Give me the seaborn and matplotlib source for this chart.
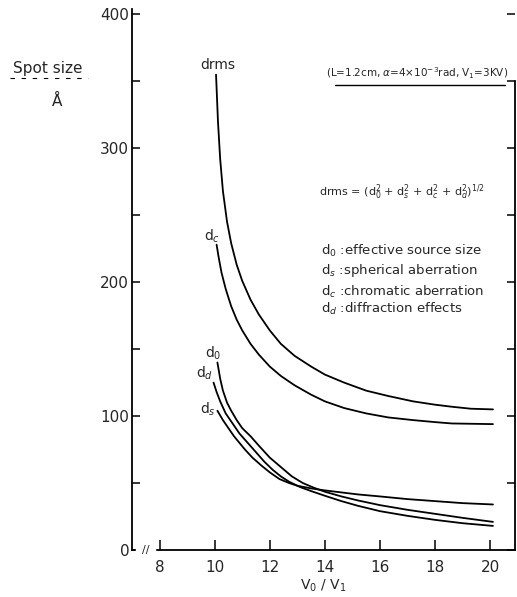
import matplotlib
matplotlib.use("Agg")
import matplotlib.pyplot as plt
import seaborn as sns
import pandas as pd
from matplotlib.lines import Line2D

# curves (x = V0/V1, y = spot size in Angstrom)
drms_x = [10.05, 10.12, 10.2, 10.3, 10.45, 10.6, 10.8, 11.0, 11.3, 11.6, 12.0, 12.4, 12.9, 13.5,
          14.0, 14.7, 15.5, 16.3, 17.2, 18.0, 18.6, 19.3, 20.1]
drms_y = [355, 320, 292, 268, 245, 229, 213, 201, 187, 176, 164, 154, 145, 137,
          131, 125, 119, 115, 111, 108.5, 107, 105.5, 105]

dc_x = [10.07, 10.15, 10.25, 10.4, 10.6, 10.8, 11.0, 11.3, 11.6, 12.0, 12.4, 12.9, 13.5,
        14.0, 14.7, 15.5, 16.3, 17.2, 18.0, 18.6, 20.1]
dc_y = [228, 218, 207, 195, 182, 172, 164, 154, 146, 137, 130, 123, 116,
        111, 106, 102, 99, 97, 95.5, 94.5, 94]

d0_x = [10.1, 10.2, 10.3, 10.45, 10.6, 10.8, 11.0, 11.3, 11.6, 12.0, 12.4, 12.8, 13.2, 13.6,
        14.0, 14.6, 15.2, 16.0, 17.0, 18.0, 19.0, 20.1]
d0_y = [140, 128, 119, 110, 104, 97, 91, 85, 78, 69, 62, 55, 50, 46.5,
        43.5, 40, 37, 33.5, 30, 27, 24, 21]

dd_x = [9.96, 10.07, 10.2, 10.4, 10.6, 10.9, 11.2, 11.5, 11.8, 12.1, 12.4, 12.7, 13.1, 13.5,
        14.0, 14.6, 15.2, 16.0, 17.0, 18.0, 19.0, 20.1]
dd_y = [125, 118, 111, 102, 96, 87, 80, 73, 66, 60, 55, 51, 47, 44,
        40.5, 36.5, 33, 29, 25.5, 22.5, 20, 18]

ds_x = [10.1, 10.3, 10.5, 10.7, 10.9, 11.1, 11.37, 11.7, 12.0, 12.35, 12.7, 13.0, 13.5,
        14.0, 14.6, 15.2, 16.0, 17.0, 18.0, 19.0, 20.1]
ds_y = [104, 97, 91, 85, 80, 75, 69, 63, 58, 53, 50, 48, 46,
        44.5, 43, 41.5, 40, 38, 36.5, 35, 34]

x_ticks = [8, 10, 12, 14, 16, 18, 20]
y_ticks = [0, 100, 200, 300, 400]

curves = {"drms": (drms_x, drms_y), "dc": (dc_x, dc_y), "d0": (d0_x, d0_y),
          "dd": (dd_x, dd_y), "ds": (ds_x, ds_y)}
df = pd.concat([pd.DataFrame({"x": cx, "y": cy, "curve": name}) for name, (cx, cy) in curves.items()])

sns.set_style("ticks")
plt.rcParams["font.family"] = ["DejaVu Sans"]

fig = plt.figure(figsize=(5.17, 5.97), dpi=100)
ax = fig.add_axes([132 / 517, 47 / 597, 383 / 517, 541 / 597])

for name in curves:
    sub = df[df["curve"] == name]
    sns.lineplot(data=sub, x="x", y="y", color="black", linewidth=1.3, sort=False,
                 estimator=None, ax=ax, legend=False)

ax.set_xlim(7.0, 20.9)
ax.set_ylim(0, 404)
ax.set_xticks(x_ticks)
ax.set_xticklabels([str(t) for t in x_ticks], fontsize=11)
ax.set_yticks(y_ticks)
ax.set_yticklabels([str(t) for t in y_ticks], fontsize=11)
ax.set_yticks([50, 150, 250, 350], minor=True)
ax.tick_params(axis="both", which="both", direction="in", width=1.1, color="black")
ax.tick_params(axis="x", length=7, pad=7)
ax.tick_params(axis="y", which="major", length=6, pad=2, right=True)
ax.tick_params(axis="y", which="minor", length=6, right=True)
ax.set_xlabel(r"V$_0$ / V$_1$", fontsize=10, labelpad=2)
ax.set_ylabel("")

for side in ["left", "bottom", "right"]:
    ax.spines[side].set_linewidth(1.3)
    ax.spines[side].set_color("black")
ax.spines["top"].set_visible(False)
ax.spines["right"].set_bounds(0, 350)

# axis break on the x axis
ax.text(7.5, 0, "//", fontsize=8, ha="center", va="center", backgroundcolor="white")

# curve labels
ax.text(10.1, 362, "drms", fontsize=10, ha="center", va="center")
ax.text(9.9, 234, r"d$_c$", fontsize=10, ha="center", va="center")
ax.text(9.95, 147, r"d$_0$", fontsize=10, ha="center", va="center")
ax.text(9.65, 132, r"d$_d$", fontsize=10, ha="center", va="center")
ax.text(9.75, 105, r"d$_s$", fontsize=10, ha="center", va="center")

# annotations
ax.text(17.35, 356, r"(L=1.2cm, $\alpha$=4$\times$10$^{-3}$rad, V$_1$=3KV)",
        fontsize=7.5, ha="center", va="center")
ax.add_line(Line2D([14.37, 20.54], [347, 347], color="black", linewidth=1.0))
ax.text(13.8, 267, r"drms = (d$_0^2$ + d$_s^2$ + d$_c^2$ + d$_d^2$)$^{1/2}$",
        fontsize=8, ha="left", va="center")
legend_lines = [(223, r"d$_0$ :effective source size"),
                (209, r"d$_s$ :spherical aberration"),
                (193, r"d$_c$ :chromatic aberration"),
                (180, r"d$_d$ :diffraction effects")]
for yy, txt in legend_lines:
    ax.text(13.86, yy, txt, fontsize=9.5, ha="left", va="center")

fig.text(48 / 517, 1 - 68 / 597, "Spot size", fontsize=11, ha="center", va="center")
fig.add_artist(Line2D([10 / 517, 88 / 517], [1 - 78 / 597, 1 - 78 / 597], color="black",
                      linewidth=0.8, linestyle=(0, (4, 6))))
fig.text(57 / 517, 1 - 101 / 597, "\u00c5", fontsize=11, ha="center", va="center")

fig.savefig("out.png", dpi=100)
